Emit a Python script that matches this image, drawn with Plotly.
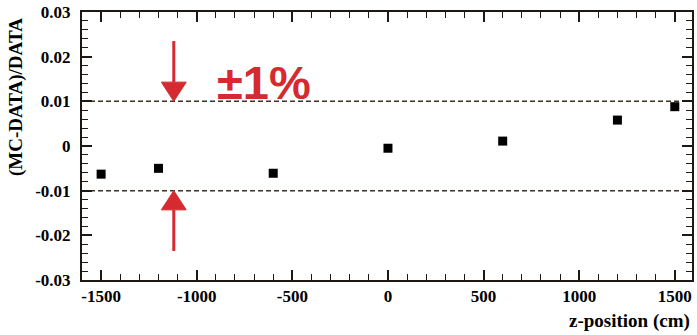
import plotly.graph_objects as go

# Relative difference between simulation and data along the detector z axis
z_position = [-1500, -1200, -600, 0, 600, 1200, 1500]
rel_diff = [-0.0063, -0.0050, -0.0061, -0.0005, 0.0011, 0.0058, 0.0088]
rel_err = [0.0005, 0.0005, 0.0005, 0.0005, 0.0006, 0.0006, 0.0006]

band = 0.01            # +/- 1% reference band
arrow_x = -1120        # horizontal position of the band arrows
arrow_tail = 0.0235    # arrow tail distance from zero
head_len = 0.0043      # arrowhead length in data units
head_half = 65         # arrowhead half width in data units

x_ticks = [-1500, -1000, -500, 0, 500, 1000, 1500]
y_ticks = [-0.03, -0.02, -0.01, 0, 0.01, 0.02, 0.03]
y_ticktext = ["-0.03", "-0.02", "-0.01", "0", "0.01", "0.02", "0.03"]

RED = "#d42a30"
AXIS = "#1e1812"
DASH = "#3e3226"
SERIF = "Liberation Serif, Times New Roman, DejaVu Serif, serif"

fig = go.Figure()

fig.add_trace(go.Scatter(
    x=z_position, y=rel_diff,
    mode="markers",
    marker=dict(symbol="square", size=9, color="black"),
    error_y=dict(type="data", array=rel_err, color="black", thickness=1.5, width=0),
    showlegend=False,
))

# +/- 1% dashed guide lines
for level in (band, -band):
    fig.add_shape(type="line", xref="paper", x0=0, x1=1, yref="y", y0=level, y1=level,
                  line=dict(color=DASH, width=1.5, dash="5px,3px"), layer="below")

# arrows pointing at the band from above and below
for sign in (1, -1):
    tip = sign * band
    base = sign * (band + head_len)
    tail = sign * arrow_tail
    fig.add_shape(type="line", x0=arrow_x, x1=arrow_x, y0=base, y1=tail,
                  line=dict(color=RED, width=3))
    fig.add_shape(type="path",
                  path=f"M {arrow_x - head_half} {base} L {arrow_x + head_half} {base} L {arrow_x} {tip} Z",
                  fillcolor=RED, line=dict(color=RED, width=1))

fig.add_annotation(x=-646, y=0.0143, xref="x", yref="y", text="±1%", showarrow=False,
                   xanchor="center", yanchor="middle",
                   font=dict(family="Liberation Sans Narrow, Arial Narrow, Liberation Sans, Arial, sans-serif",
                             size=47, color=RED, weight=600))

fig.add_annotation(x=-0.108, y=0.683, xref="paper", yref="paper", text="<b>(MC-DATA)/DATA</b>",
                   textangle=-90, showarrow=False, xanchor="center", yanchor="middle",
                   font=dict(family=SERIF, size=19, color="black"))
fig.add_annotation(x=1.0, y=-0.153, xref="paper", yref="paper", text="<b>z-position (cm)</b>",
                   showarrow=False, xanchor="right", yanchor="middle",
                   font=dict(family=SERIF, size=19, color="black"))

axis_common = dict(
    showgrid=False, zeroline=False, showline=True, linecolor=AXIS, linewidth=2,
    mirror="allticks", ticks="inside", tickcolor=AXIS, tickwidth=1.5, ticklen=10,
    tickfont=dict(family=SERIF, size=17, color="black"),
)

fig.update_xaxes(range=[-1600, 1590], tickvals=x_ticks, ticktext=[f"<b>{v}</b>" for v in x_ticks],
                 minor=dict(dtick=100, ticks="inside", ticklen=6, tickcolor=AXIS, tickwidth=1.3),
                 **axis_common)
fig.update_yaxes(range=[-0.03, 0.03], tickvals=y_ticks, ticktext=[f"<b>{t}</b>" for t in y_ticktext],
                 minor=dict(dtick=0.002, ticks="inside", ticklen=6, tickcolor=AXIS, tickwidth=1.3),
                 ticklabelstandoff=6, **axis_common)

fig.update_layout(
    width=697, height=335,
    margin=dict(l=82, r=3, t=12, b=55),
    plot_bgcolor="white", paper_bgcolor="white",
)

fig.write_html("out.html")
